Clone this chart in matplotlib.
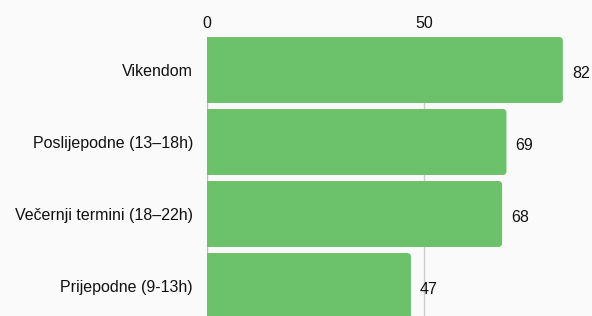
import matplotlib.pyplot as plt
from matplotlib.patches import FancyBboxPatch

categories = ["Vikendom", "Poslijepodne (13–18h)", "Večernji termini (18–22h)", "Prijepodne (9-13h)"]
values = [82, 69, 68, 47]
ticks = [0, 50]

plt.rcParams['font.family'] = ['Liberation Sans', 'DejaVu Sans']

W, H = 592, 316
fig = plt.figure(figsize=(W / 100, H / 100), dpi=100)
fig.patch.set_facecolor('#fafafa')

left, top = 207, 37
ax = fig.add_axes([left / W, 0, (W - left) / W, 1 - top / H])
ax.set_facecolor('#fafafa')

px_per_unit = 217 / 50.0
ax.set_xlim(0, (W - left) / px_per_unit)
pitch = 72.0
ax.set_ylim((H - 70) / pitch, -(70 - top) / pitch)

bar_h = 66 / pitch
rx = 4 / px_per_unit
ry = 4 / pitch
fs = 11.5
for i, v in enumerate(values):
    p = FancyBboxPatch((-2, i - bar_h / 2), v + 2, bar_h,
                       boxstyle="round,pad=0,rounding_size=%f" % rx,
                       mutation_aspect=ry / rx,
                       facecolor='#6cc26a', edgecolor='none', zorder=2)
    ax.add_patch(p)
    ax.text(v + 9 / px_per_unit, i + 3 / pitch, str(v), va='center', ha='left',
            fontsize=fs, color='#111111', zorder=3)

for t in ticks:
    ax.axvline(t, color='#cccccc' if t else '#bbbbbb', lw=1, zorder=1)

ax.set_yticks(range(len(categories)))
ax.set_yticklabels(categories, fontsize=fs, color='#111111')
ax.xaxis.tick_top()
ax.set_xticks(ticks)
ax.set_xticklabels([str(t) for t in ticks], fontsize=fs, color='#111111')
ax.tick_params(axis='both', length=0)
ax.tick_params(axis='y', pad=10)
ax.tick_params(axis='x', pad=4)
for s in ax.spines.values():
    s.set_visible(False)

fig.savefig('out.png', dpi=100, facecolor=fig.get_facecolor())
